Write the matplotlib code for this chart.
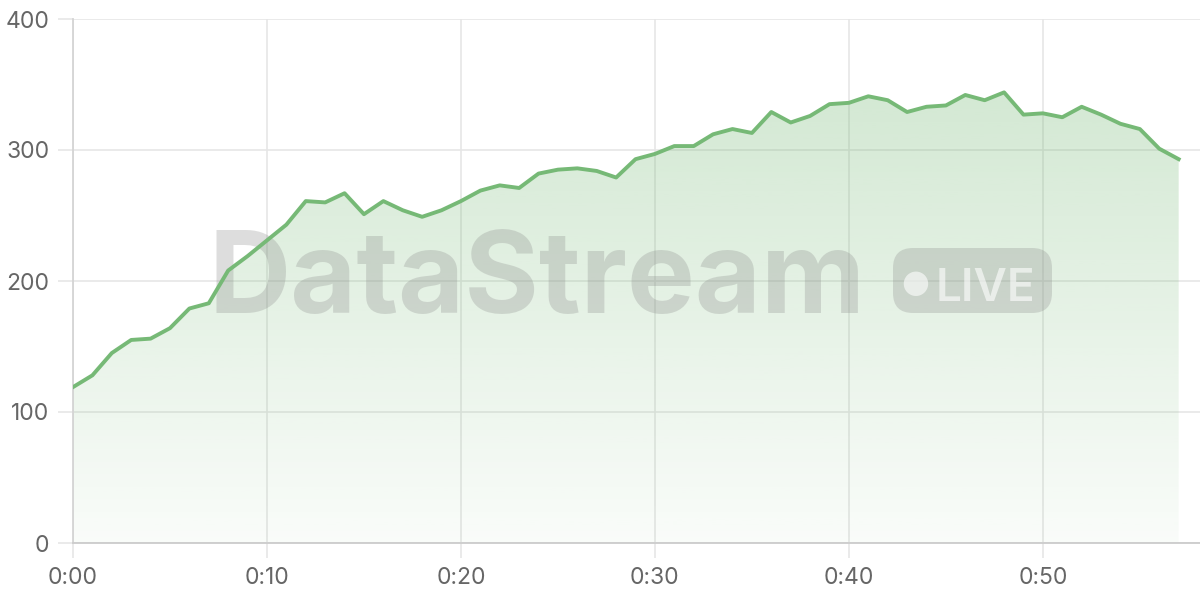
import numpy as np
import matplotlib
matplotlib.use('Agg')
import matplotlib.pyplot as plt
from matplotlib.patches import FancyBboxPatch

# one reading per second
seconds = list(range(58))
values = [119, 128, 145, 155, 156, 164, 179, 183, 208, 219,
          231, 243, 261, 260, 267, 251, 261, 254, 249, 254,
          261, 269, 273, 271, 282, 285, 286, 284, 279, 293,
          297, 303, 303, 312, 316, 313, 329, 321, 326, 335,
          336, 341, 338, 329, 333, 334, 342, 338, 344, 327,
          328, 325, 333, 327, 320, 316, 301, 293]
xticks = [0, 10, 20, 30, 40, 50]
xlabels = ['0:00', '0:10', '0:20', '0:30', '0:40', '0:50']
yticks = [0, 100, 200, 300, 400]

green = '#76b976'
plt.rcParams['font.family'] = ['Inter', 'DejaVu Sans']

fig = plt.figure(figsize=(12, 6), dpi=100)
ax = fig.add_axes([73/1200, 57/600, 1 - 73/1200, 524/600])

x = np.array(seconds)
y = np.array(values)

# gradient area under the line
poly = ax.fill_between(x, y, 0, color='none', lw=0)
grad = np.zeros((256, 1, 4))
rgb = matplotlib.colors.to_rgb(green)
grad[:, 0, :3] = rgb
grad[:, 0, 3] = np.linspace(0.04, 0.32, 256)
img = ax.imshow(grad, aspect='auto', origin='lower',
                extent=[x.min(), x.max(), 0, y.max()], zorder=1)
img.set_clip_path(poly.get_paths()[0], transform=ax.transData)

ax.plot(x, y, color=green, lw=2.8, zorder=4, solid_joinstyle='round')

ax.set_xlim(0, 58.1)
ax.set_ylim(0, 400)
ax.set_xticks(xticks)
ax.set_xticklabels(xlabels)
ax.set_yticks(yticks)
ax.grid(True, color='#e6e6e6', lw=1.2, zorder=0)
ax.set_axisbelow(True)
ax.tick_params(length=11, width=1.2, color='#e6e6e6', labelcolor='#666666',
               labelsize=16.5, pad=6)
for s in ['top', 'right']:
    ax.spines[s].set_visible(False)
ax.spines['left'].set_color('#d4d4d4')
ax.spines['bottom'].set_color('#cccccc')
ax.spines['left'].set_linewidth(1.3)
ax.spines['bottom'].set_linewidth(1.3)

# watermark
tr = fig.dpi_scale_trans
ax.text(2.08, 2.87, 'DataStream', transform=tr, fontsize=82, fontweight='bold',
        color='#888888', alpha=0.28, ha='left', va='baseline', zorder=3,
        family=['Inter', 'DejaVu Sans'])
box = FancyBboxPatch((8.93, 2.87), 1.59, 0.65, transform=tr,
                     boxstyle='round,pad=0,rounding_size=0.2',
                     fc='#888888', ec='none', alpha=0.28, zorder=3)
ax.add_patch(box)
ax.text(9.15, 3.20, '\u25cf', transform=tr, fontsize=23, color='white',
        alpha=0.6, ha='center', va='center_baseline', zorder=3,
        family=['DejaVu Sans'])
ax.text(9.36, 2.99, 'LIVE', transform=tr, fontsize=33, color='white',
        fontweight='semibold', alpha=0.6, ha='left', va='baseline', zorder=3)

fig.savefig('out.png', dpi=100)
